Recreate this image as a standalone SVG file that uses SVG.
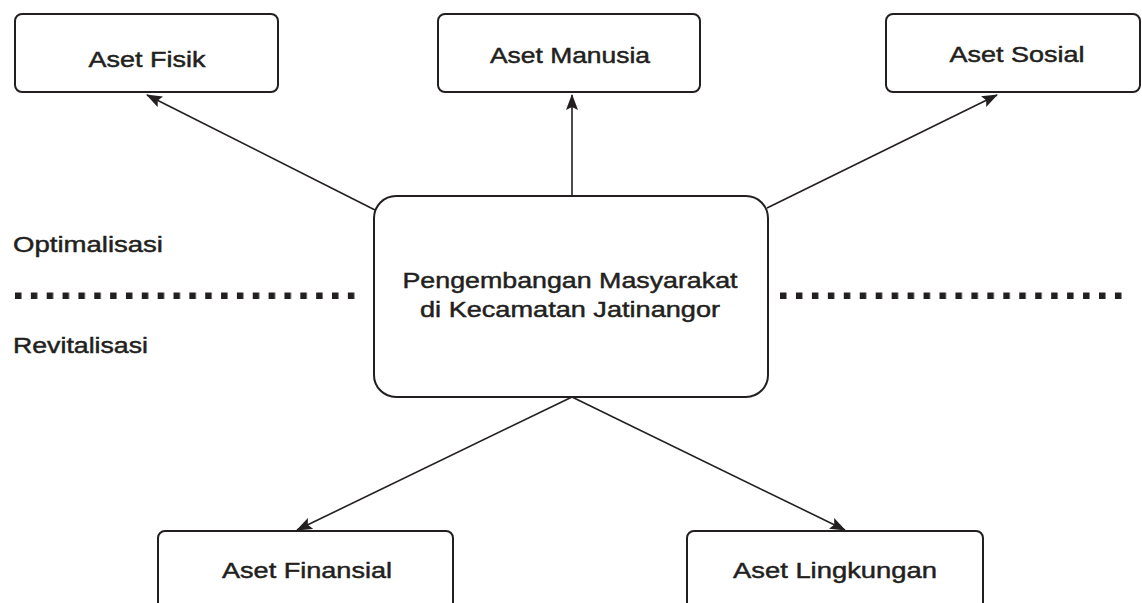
<svg xmlns="http://www.w3.org/2000/svg" width="1142" height="603" viewBox="0 0 1142 603">
<style>
.box{fill:#fff;stroke:#231f20;stroke-width:2}
.lbl{font-family:"Liberation Sans",Arial,sans-serif;font-size:21.5px;fill:#231f20;stroke:#231f20;stroke-width:0.45}
.mid{text-anchor:middle}
.con{stroke:#231f20;stroke-width:1.6;fill:none}
</style>
<defs>
<marker id="ah" viewBox="0 0 16 12" refX="15" refY="6" markerWidth="16" markerHeight="12" markerUnits="userSpaceOnUse" orient="auto">
<path d="M0,0 L16,6 L0,12 L3,6 Z" fill="#231f20"/>
</marker>
<pattern id="dots" x="15" y="0" width="15.85" height="603" patternUnits="userSpaceOnUse">
<rect x="0" y="292.5" width="6.5" height="6.5" fill="#231f20"/>
</pattern>
<pattern id="dots2" x="780" y="0" width="15.95" height="603" patternUnits="userSpaceOnUse">
<rect x="0" y="292.5" width="6.5" height="6.5" fill="#231f20"/>
</pattern>
</defs>
<rect width="1142" height="603" fill="#fff"/>

<g id="connectors">
<line class="con" x1="375" y1="210" x2="147" y2="95" marker-end="url(#ah)"/>
<line class="con" x1="572" y1="196" x2="572" y2="95" marker-end="url(#ah)"/>
<line class="con" x1="767" y1="208" x2="997" y2="95" marker-end="url(#ah)"/>
<line class="con" x1="572" y1="397" x2="297" y2="530" marker-end="url(#ah)"/>
<line class="con" x1="572" y1="397" x2="845" y2="530" marker-end="url(#ah)"/>
</g>

<g id="separators">
<rect x="15" y="290" width="341" height="12" fill="url(#dots)"/>
<rect x="780" y="290" width="342" height="12" fill="url(#dots2)"/>
</g>

<g id="aset-fisik">
<rect class="box" x="15" y="14" width="263" height="78" rx="7"/>
<text class="lbl mid" x="147" y="67" textLength="117" lengthAdjust="spacingAndGlyphs">Aset Fisik</text>
</g>
<g id="aset-manusia">
<rect class="box" x="438" y="14" width="262" height="78" rx="7"/>
<text class="lbl mid" x="570" y="63" textLength="160" lengthAdjust="spacingAndGlyphs">Aset Manusia</text>
</g>
<g id="aset-sosial">
<rect class="box" x="886" y="14" width="254" height="78" rx="7"/>
<text class="lbl mid" x="1017" y="62" textLength="135" lengthAdjust="spacingAndGlyphs">Aset Sosial</text>
</g>
<g id="pengembangan">
<rect class="box" x="374" y="196" width="394" height="201" rx="22"/>
<text class="lbl mid" x="570" y="288" textLength="335" lengthAdjust="spacingAndGlyphs">Pengembangan Masyarakat</text>
<text class="lbl mid" x="570" y="317" textLength="300" lengthAdjust="spacingAndGlyphs">di Kecamatan Jatinangor</text>
</g>
<g id="optimalisasi">
<text class="lbl" x="13" y="252" textLength="150" lengthAdjust="spacingAndGlyphs">Optimalisasi</text>
</g>
<g id="revitalisasi">
<text class="lbl" x="13" y="353" textLength="135" lengthAdjust="spacingAndGlyphs">Revitalisasi</text>
</g>
<g id="aset-finansial">
<rect class="box" x="158" y="531" width="295" height="90" rx="7"/>
<text class="lbl mid" x="307" y="578" textLength="170" lengthAdjust="spacingAndGlyphs">Aset Finansial</text>
</g>
<g id="aset-lingkungan">
<rect class="box" x="687" y="531" width="296" height="90" rx="7"/>
<text class="lbl mid" x="835" y="578" textLength="204" lengthAdjust="spacingAndGlyphs">Aset Lingkungan</text>
</g>
</svg>
